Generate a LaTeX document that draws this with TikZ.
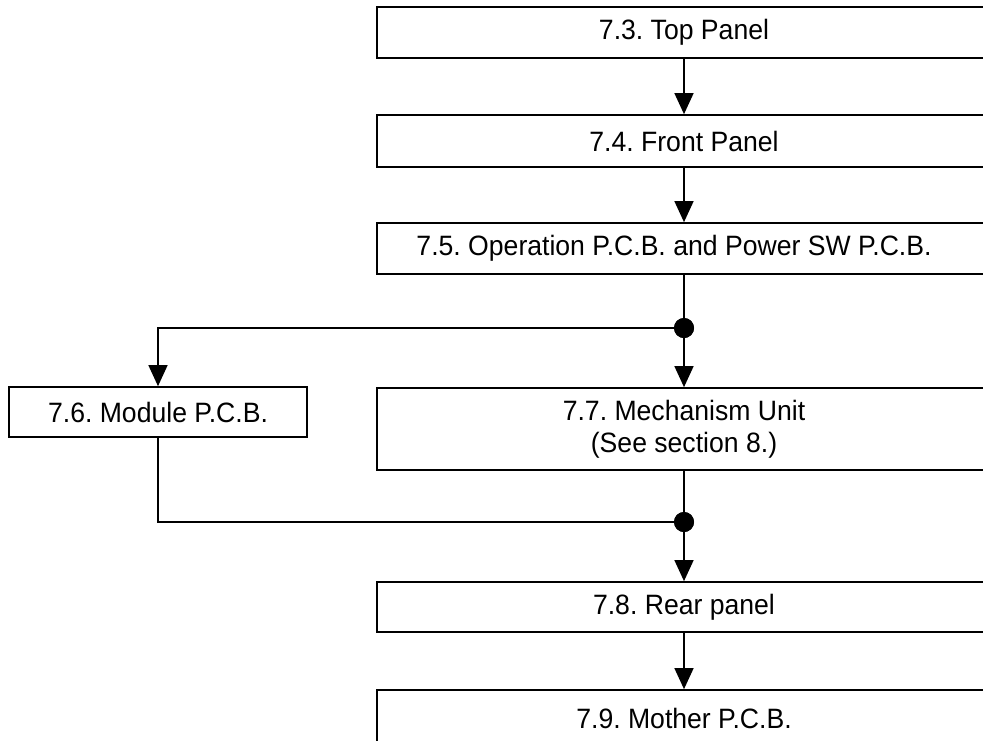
\documentclass[tikz,border=0pt]{standalone}
\usepackage{fontspec}
\setmainfont{Liberation Sans}[FakeStretch=0.95]
\usetikzlibrary{arrows.meta}
\begin{document}
\frenchspacing
\begin{tikzpicture}[x=1pt,y=-1pt,
  box/.style={draw=black,line width=1.7pt,fill=white,inner sep=0pt,
    font=\fontsize{28}{31.5}\selectfont,align=center},
  conn/.style={line width=1.4pt},
  arr/.style={conn,-{Triangle[length=21pt,width=19pt]}},
  junction/.style={circle,fill=black,inner sep=0pt,minimum size=20pt}]
\useasboundingbox (0,0) rectangle (983,740);
\fill[white] (0,0) rectangle (983,740);
\node[box,minimum width=614pt,minimum height=51pt] (top) at (684,32.5) {7.3. Top Panel};
\node[box,minimum width=614pt,minimum height=52pt] (front) at (684,141) {7.4. Front Panel};
\node[box,minimum width=614pt,minimum height=51pt] (op) at (684,248.5) {7.5. Operation P.C.B. and Power SW P.C.B.\hspace*{20pt}};
\node[box,minimum width=298pt,minimum height=50pt] (module) at (158,412) {7.6. Module P.C.B.};
\node[box,minimum width=614pt,minimum height=82pt] (mech) at (684,429) {7.7. Mechanism Unit\\(See section 8.)};
\node[box,minimum width=614pt,minimum height=50pt] (rear) at (684,607) {7.8. Rear panel};
\node[box,minimum width=614pt,minimum height=56pt] (mother) at (684,718) {7.9. Mother P.C.B.};
\node[junction] (j1) at (684,328) {};
\node[junction] (j2) at (684,522) {};
\draw[arr] (top.south) -- (front.north);
\draw[arr] (front.south) -- (op.north);
\draw[conn] (op.south) -- (j1.center);
\draw[arr] (j1.center) -- (mech.north);
\draw[arr] (j1.center) -| (module.north);
\draw[conn] (module.south) |- (j2.center);
\draw[conn] (mech.south) -- (j2.center);
\draw[arr] (j2.center) -- (rear.north);
\draw[arr] (rear.south) -- (mother.north);
\node[junction] at (j1) {};
\node[junction] at (j2) {};
\end{tikzpicture}
\end{document}
